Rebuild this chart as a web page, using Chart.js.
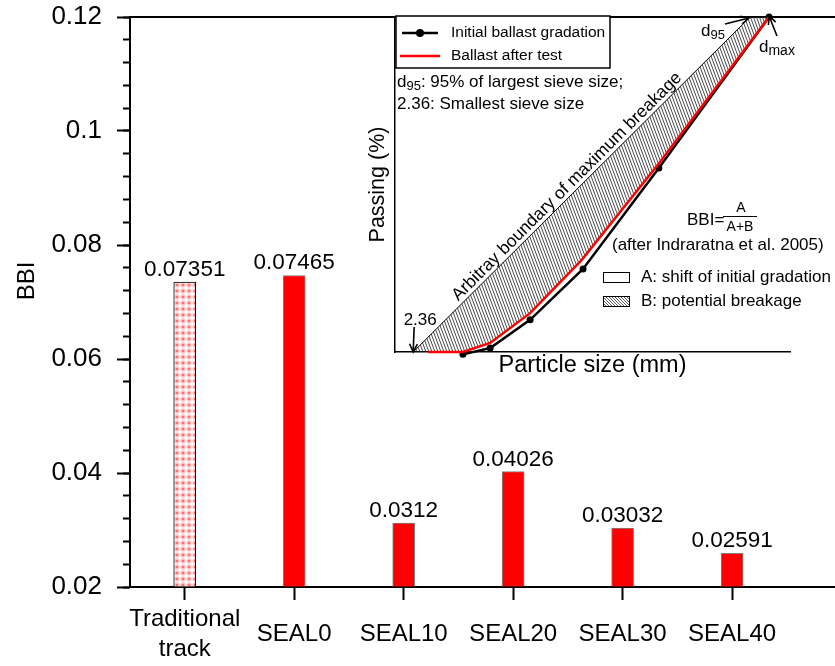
<!DOCTYPE html>
<html>
<head>
<meta charset="utf-8">
<script src="https://cdn.jsdelivr.net/npm/chart.js@4.4.1/dist/chart.umd.min.js"></script>
<style>
  html, body { margin: 0; padding: 0; background: #fff; }
  #wrap { position: relative; width: 835px; height: 666px; }
  #wrap canvas { position: absolute; left: 0; top: 0; }
</style>
</head>
<body>
<div id="wrap">
  <canvas id="bars" width="835" height="666"></canvas>
  <canvas id="inset" width="835" height="666"></canvas>
</div>
<script>
// ---- main bar chart data ----
const categories = [['Traditional', 'track'], 'SEAL0', 'SEAL10', 'SEAL20', 'SEAL30', 'SEAL40'];
const bbiValues = [0.07351, 0.07465, 0.0312, 0.04026, 0.03032, 0.02591];
const yTicks = [0.02, 0.04, 0.06, 0.08, 0.1, 0.12];
const yTickLabels = ['0.02', '0.04', '0.06', '0.08', '0.1', '0.12'];

// ---- inset gradation sketch (schematic particle size vs passing %) ----
const sizeInitial = [17.2, 24.1, 34.2, 47.6, 66.8, 94.7];
const passInitial = [-0.7, 1.2, 9.6, 24.8, 54.9, 100];
const sizeAfter = [8.4, 17.2, 24.1, 34.2, 47.3, 67.1, 94.7];
const passAfter = [0, 0, 2.7, 11.6, 27.5, 56.7, 100];
const sizeBoundary = [4.6, 89.9];
const passBoundary = [0, 100];

const FONT = "Arial, 'Liberation Sans', Helvetica, sans-serif";
Chart.defaults.font.family = FONT;
Chart.defaults.color = '#000';

function dotPattern() {
  const c = document.createElement('canvas');
  c.width = 6; c.height = 6;
  const g = c.getContext('2d');
  g.fillStyle = '#ffffff'; g.fillRect(0, 0, 6, 6);
  g.fillStyle = '#ffc8c8'; g.beginPath(); g.arc(3, 3, 2.7, 0, Math.PI * 2); g.fill();
  g.fillStyle = '#ff7070'; g.beginPath(); g.arc(3, 3, 1.3, 0, Math.PI * 2); g.fill();
  return g.createPattern(c, 'repeat');
}

function hatchPattern(w, h, color, lw) {
  const c = document.createElement('canvas');
  c.width = w; c.height = h;
  const g = c.getContext('2d');
  g.strokeStyle = color; g.lineWidth = lw;
  for (const dx of [-w, 0, w]) {
    g.beginPath(); g.moveTo(dx, 0); g.lineTo(dx + w, h); g.stroke();
  }
  return g.createPattern(c, 'repeat');
}

const px = (v) => v + 'px ' + FONT;

// keep the plot frame exactly where the layout padding puts it
function noEdgePadding(s) {
  s.paddingTop = 0; s.paddingBottom = 0; s.paddingLeft = 0; s.paddingRight = 0;
}

// value text above each bar, the top frame line and the rotated BBI axis title
const barAnnotations = {
  id: 'barAnnotations',
  afterDatasetsDraw(chart) {
    const ctx = chart.ctx;
    const meta = chart.getDatasetMeta(0);
    ctx.save();
    ctx.fillStyle = '#000';
    ctx.font = px(22.5);
    ctx.textAlign = 'center';
    ctx.textBaseline = 'alphabetic';
    meta.data.forEach((bar, i) => {
      ctx.fillText(String(bbiValues[i]), bar.x, bar.y - 6);
    });
    ctx.restore();
  },
  afterDraw(chart) {
    const ctx = chart.ctx;
    const a = chart.chartArea;
    ctx.save();
    ctx.strokeStyle = '#000';
    ctx.lineWidth = 2;
    ctx.beginPath();
    ctx.moveTo(a.left - 1, a.top);
    ctx.lineTo(a.right, a.top);
    ctx.stroke();
    ctx.translate(27, 281);
    ctx.rotate(-Math.PI / 2);
    ctx.font = px(24);
    ctx.textAlign = 'center';
    ctx.textBaseline = 'middle';
    ctx.fillStyle = '#000';
    ctx.fillText('BBI', 0, 0);
    ctx.restore();
  }
};

const minorTicks = [];
for (let k = 0; k <= 25; k++) minorTicks.push(+(0.02 + k * 0.004).toFixed(3));

new Chart(document.getElementById('bars'), {
  type: 'bar',
  data: {
    datasets: [{
      data: bbiValues.map((v, i) => ({ x: i, y: v })),
      backgroundColor: bbiValues.map((v, i) => (i === 0 ? dotPattern() : '#ff0000')),
      borderColor: bbiValues.map((v, i) => (i === 0 ? '#000000' : '#808080')),
      borderWidth: 1,
      barThickness: 22,
      base: 0.02
    }]
  },
  options: {
    responsive: false,
    animation: false,
    devicePixelRatio: 1,
    layout: { padding: { top: 17, right: 0, left: 0, bottom: 0 } },
    plugins: { legend: { display: false }, tooltip: { enabled: false } },
    scales: {
      x: {
        type: 'linear', position: 'bottom', min: -0.5, max: 5.94, offset: false,
        afterBuildTicks: (s) => { s.ticks = categories.map((c, i) => ({ value: i })); },
        ticks: {
          callback: (v, i) => categories[i],
          font: { size: 24, lineHeight: 1.25 }, color: '#000',
          padding: 19, maxRotation: 0, autoSkip: false, crossAlign: 'center'
        },
        grid: { display: true, offset: false, drawOnChartArea: false, drawTicks: true, tickLength: 13, tickWidth: 2, tickColor: '#000' },
        border: { display: true, width: 2, color: '#000' },
        afterFit: (s) => { s.height = 79; noEdgePadding(s); }
      },
      y: {
        type: 'linear', position: 'left', min: 0.02, max: 0.12, weight: 1,
        afterBuildTicks: (s) => { s.ticks = yTicks.map((v) => ({ value: v })); },
        ticks: { callback: (v, i) => yTickLabels[i], font: { size: 26 }, color: '#000', padding: 15 },
        grid: { drawOnChartArea: false, drawTicks: true, tickLength: 13, tickWidth: 2, tickColor: '#000' },
        border: { display: true, width: 2, color: '#000' },
        afterFit: (s) => { s.width = 130; noEdgePadding(s); }
      },
      yMinor: {
        type: 'linear', position: 'left', min: 0.02, max: 0.12, weight: 0,
        afterBuildTicks: (s) => { s.ticks = minorTicks.map((v) => ({ value: v })); },
        ticks: { display: false },
        grid: { drawOnChartArea: false, drawTicks: true, tickLength: 7, tickWidth: 2, tickColor: '#000' },
        border: { display: false },
        afterFit: (s) => { s.width = 0; noEdgePadding(s); }
      }
    }
  },
  plugins: [barAnnotations]
});

// ---- inset ----
function arrow(ctx, x1, y1, x2, y2) {
  const ang = Math.atan2(y2 - y1, x2 - x1);
  const hl = 9, ha = 0.45;
  ctx.beginPath();
  ctx.moveTo(x1, y1); ctx.lineTo(x2, y2);
  ctx.moveTo(x2 - hl * Math.cos(ang - ha), y2 - hl * Math.sin(ang - ha));
  ctx.lineTo(x2, y2);
  ctx.lineTo(x2 - hl * Math.cos(ang + ha), y2 - hl * Math.sin(ang + ha));
  ctx.stroke();
}

function textWithSub(ctx, x, y, main, sub, rest, size, subSize) {
  ctx.textAlign = 'left';
  ctx.textBaseline = 'middle';
  ctx.font = px(size);
  ctx.fillText(main, x, y);
  let cx = x + ctx.measureText(main).width;
  ctx.font = px(subSize);
  ctx.fillText(sub, cx, y + size * 0.25);
  cx += ctx.measureText(sub).width;
  if (rest) {
    ctx.font = px(size);
    ctx.fillText(rest, cx, y);
  }
}

const legendHatch = hatchPattern(3, 3, '#333', 0.8);

const insetNotes = {
  id: 'insetNotes',
  afterDraw(chart) {
    const { ctx, chartArea: a, scales: { x, y } } = chart;
    ctx.save();
    ctx.fillStyle = '#000';
    ctx.strokeStyle = '#000';

    // legend box
    const lx = a.left + 1, ly = a.top - 1, lw = 214, lh = 52;
    ctx.fillStyle = '#fff';
    ctx.fillRect(lx, ly, lw, lh);
    ctx.lineWidth = 1.5;
    ctx.strokeRect(lx, ly, lw, lh);
    ctx.lineWidth = 2.5;
    ctx.beginPath(); ctx.moveTo(lx + 6, ly + 17); ctx.lineTo(lx + 42, ly + 17); ctx.stroke();
    ctx.fillStyle = '#000';
    ctx.beginPath(); ctx.arc(lx + 24, ly + 17, 4, 0, Math.PI * 2); ctx.fill();
    ctx.strokeStyle = '#ff0000';
    ctx.beginPath(); ctx.moveTo(lx + 4, ly + 40); ctx.lineTo(lx + 44, ly + 40); ctx.stroke();
    ctx.strokeStyle = '#000';
    ctx.font = px(15.5);
    ctx.textAlign = 'left';
    ctx.textBaseline = 'middle';
    ctx.fillText('Initial ballast gradation', lx + 55, ly + 17);
    ctx.fillText('Ballast after test', lx + 55, ly + 40);

    // notes under the legend
    ctx.fillStyle = '#000';
    textWithSub(ctx, a.left + 2, 82, 'd', '95', ': 95% of largest sieve size;', 17, 13);
    ctx.font = px(17);
    ctx.fillText('2.36: Smallest sieve size', a.left + 2, 104);

    // boundary caption along the line
    const p0 = { x: x.getPixelForValue(sizeBoundary[0]), y: y.getPixelForValue(passBoundary[0]) };
    const p1 = { x: x.getPixelForValue(sizeBoundary[1]), y: y.getPixelForValue(passBoundary[1]) };
    const ang = Math.atan2(p1.y - p0.y, p1.x - p0.x);
    const t = 0.475;
    ctx.save();
    ctx.translate(p0.x + (p1.x - p0.x) * t, p0.y + (p1.y - p0.y) * t);
    ctx.rotate(ang);
    ctx.font = px(17.5);
    ctx.textAlign = 'center';
    ctx.textBaseline = 'alphabetic';
    ctx.fillText('Arbitray boundary of maximum breakage', 0, -4);
    ctx.restore();

    // pointer labels
    ctx.lineWidth = 1.6;
    ctx.font = px(17);
    ctx.textAlign = 'center';
    ctx.textBaseline = 'middle';
    ctx.fillText('2.36', p0.x + 7, 320);
    arrow(ctx, p0.x + 1, 327, p0.x, p0.y);

    const pMax = { x: x.getPixelForValue(sizeInitial[sizeInitial.length - 1]), y: y.getPixelForValue(100) };
    textWithSub(ctx, 701, 31, 'd', '95', '', 17, 13);
    arrow(ctx, 725, 24, p1.x - 1, p1.y + 1);
    textWithSub(ctx, 759, 47, 'd', 'max', '', 17, 14);
    arrow(ctx, 777, 36, pMax.x, pMax.y - 1);

    // BBI definition
    ctx.textAlign = 'left';
    ctx.font = px(17);
    ctx.fillText('BBI=', 687, 220);
    ctx.textAlign = 'center';
    ctx.font = px(14);
    ctx.fillText('A', 741, 208);
    ctx.fillText('A+B', 740, 227);
    ctx.lineWidth = 1;
    ctx.beginPath(); ctx.moveTo(723, 216.5); ctx.lineTo(757, 216.5); ctx.stroke();
    ctx.textAlign = 'left';
    ctx.font = px(17);
    ctx.fillText('(after Indraratna et al. 2005)', 612, 245);

    // area key
    ctx.fillStyle = '#fff';
    ctx.fillRect(603.5, 272.5, 26, 10);
    ctx.strokeRect(603.5, 272.5, 26, 10);
    ctx.fillStyle = legendHatch;
    ctx.fillRect(603.5, 296.5, 26, 10);
    ctx.strokeRect(603.5, 296.5, 26, 10);
    ctx.fillStyle = '#000';
    ctx.font = px(17);
    ctx.fillText('A: shift of initial gradation', 641, 277);
    ctx.fillText('B: potential breakage', 641, 301);
    ctx.restore();
  }
};

const pts = (xs, ys) => xs.map((v, i) => ({ x: v, y: ys[i] }));
const breakageOutline = pts(sizeBoundary, passBoundary).concat(pts(sizeAfter, passAfter).reverse());

new Chart(document.getElementById('inset'), {
  type: 'scatter',
  data: {
    datasets: [
      { label: 'Ballast after test', data: pts(sizeAfter, passAfter), showLine: true,
        borderColor: '#ff0000', borderWidth: 2.5, pointRadius: 0, order: 0, clip: false },
      { label: 'Initial ballast gradation', data: pts(sizeInitial, passInitial), showLine: true,
        borderColor: '#000', borderWidth: 2.5, pointRadius: 3.5, pointBackgroundColor: '#000',
        pointBorderWidth: 0, order: 1, clip: false },
      { label: 'Boundary', data: pts(sizeBoundary, passBoundary), showLine: true,
        borderColor: '#000', borderWidth: 1, pointRadius: 0, order: 2, clip: false },
      { label: 'Potential breakage', data: breakageOutline, showLine: true, borderWidth: 0,
        borderColor: 'rgba(0,0,0,0)', pointRadius: 0, fill: 'shape',
        backgroundColor: hatchPattern(3, 8, '#333', 0.9), order: 3 }
    ]
  },
  options: {
    responsive: false,
    animation: false,
    devicePixelRatio: 1,
    layout: { padding: { left: 355, right: 45, top: 17, bottom: 274 } },
    plugins: { legend: { display: false }, tooltip: { enabled: false } },
    scales: {
      x: {
        type: 'linear', min: 0, max: 100,
        ticks: { display: false },
        grid: { display: true, drawOnChartArea: false, drawTicks: false },
        border: { display: true, width: 1.5, color: '#000' },
        title: { display: true, text: 'Particle size (mm)', font: { size: 23.5 }, color: '#000',
                 padding: { top: 0, bottom: 12 } },
        afterFit: (s) => { s.height = 40; noEdgePadding(s); }
      },
      y: {
        type: 'linear', min: 0, max: 100,
        ticks: { display: false },
        grid: { display: true, drawOnChartArea: false, drawTicks: false },
        border: { display: true, width: 1.5, color: '#000' },
        title: { display: true, text: 'Passing (%)', font: { size: 21.5 }, color: '#000',
                 padding: { top: 10, bottom: 0 } },
        afterFit: (s) => { s.width = 40; noEdgePadding(s); }
      }
    }
  },
  plugins: [insetNotes]
});
</script>
</body>
</html>
